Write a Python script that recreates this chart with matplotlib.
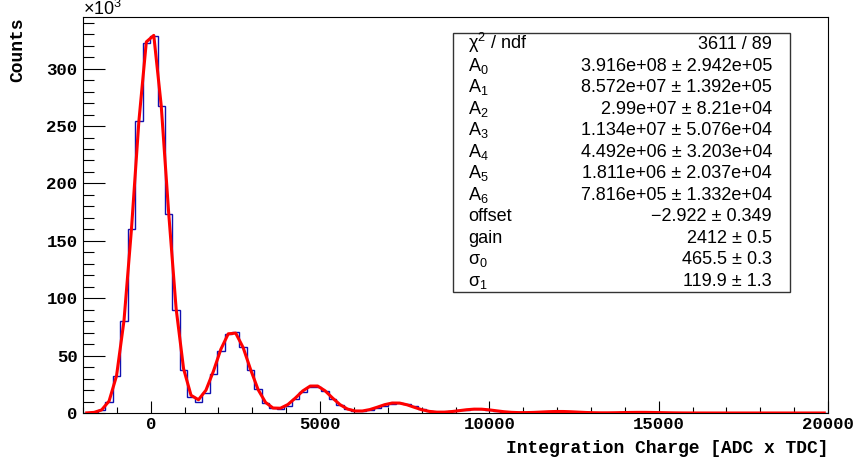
import numpy as np
import matplotlib
matplotlib.use("Agg")
import matplotlib.pyplot as plt
from matplotlib.ticker import MultipleLocator
from matplotlib.patches import Rectangle

plt.rcParams["mathtext.fontset"] = "custom"
plt.rcParams["mathtext.rm"] = "Liberation Sans"
plt.rcParams["mathtext.it"] = "Liberation Sans:italic"

# ─── histogram: 100 bins, -2000 .. 20000 (width 220), counts in 10^3 ───
X_MIN, X_MAX, N_BINS = -2000, 20000, 100
COUNTS_K = [
    0.1, 0.6, 2.6, 9.9, 32.0, 80.4, 160.5, 254.6, 322.6, 328.4,
    267.4, 173.3, 89.7, 37.8, 14.0, 9.9, 17.2, 33.7, 53.6, 68.5,
    70.3, 57.6, 37.8, 20.5, 9.0, 4.1, 3.2, 6.4, 12.2, 18.6,
    22.9, 22.9, 19.2, 12.2, 7.0, 3.2, 1.4, 1.5, 2.5, 4.2,
    6.3, 8.0, 8.6, 7.6, 5.8, 3.8, 2.1, 1.2, 1.0, 1.5,
    2.2, 2.9, 3.3, 3.3, 2.8, 2.0, 1.3, 0.8, 0.6, 0.7,
    0.9, 1.1, 1.3, 1.35, 1.3, 1.1, 0.85, 0.6, 0.4, 0.35,
    0.35, 0.4, 0.5, 0.55, 0.57, 0.55, 0.5, 0.4, 0.3, 0.2,
    0.15, 0.1, 0.08, 0.06, 0.05, 0.04, 0.03, 0.03, 0.02, 0.02,
    0.02, 0.01, 0.01, 0.01, 0.01, 0.0, 0.0, 0.0, 0.0, 0.0,
]

# ─── fit result (stats box) ───
CHI2, NDF = 3611, 89
AMPS = [3.916e8, 8.572e7, 2.99e7, 1.134e7, 4.492e6, 1.811e6, 7.816e5]
AMP_ERR = [2.942e5, 1.392e5, 8.21e4, 5.076e4, 3.203e4, 2.037e4, 1.332e4]
AMP_FMT = [".3e", ".3e", ".2e", ".3e", ".3e", ".3e", ".3e"]
ERR_FMT = [".3e", ".3e", ".2e", ".3e", ".3e", ".3e", ".3e"]
OFFSET, OFFSET_ERR = -2.922, 0.349
GAIN, GAIN_ERR = 2412, 0.5
SIGMA0, SIGMA0_ERR = 465.5, 0.3
SIGMA1, SIGMA1_ERR = 119.9, 1.3

edges = np.linspace(X_MIN, X_MAX, N_BINS + 1)
centers = 0.5 * (edges[:-1] + edges[1:])

# fit model: sum of gaussians, peak k at offset + k*gain, sigma_k^2 = s0^2 + k*s1^2
fit = np.zeros_like(centers)
for k, a in enumerate(AMPS):
    sk = np.sqrt(SIGMA0**2 + k * SIGMA1**2)
    mu = OFFSET + k * GAIN
    fit += a / (np.sqrt(2 * np.pi) * sk) * np.exp(-0.5 * ((centers - mu) / sk) ** 2)
fit /= 1e3

W, H = 858, 465
fig = plt.figure(figsize=(W / 100, H / 100), dpi=100)
ax = fig.add_axes([83 / W, 1 - 413 / H, (828 - 83) / W, (413 - 17) / H])

ax.stairs(COUNTS_K, edges, color="#1010b0", linewidth=1.0, zorder=2)
ax.plot(centers, fit, color="#ff0000", linewidth=2.2, zorder=3)

ax.set_xlim(X_MIN, X_MAX)
ax.set_ylim(0, 345)
ax.xaxis.set_major_locator(MultipleLocator(5000))
ax.xaxis.set_minor_locator(MultipleLocator(1000))
ax.yaxis.set_major_locator(MultipleLocator(50))
ax.yaxis.set_minor_locator(MultipleLocator(10))

mono = dict(family="Liberation Mono", weight="bold")
ax.tick_params(axis="both", which="both", direction="in", top=False, right=False,
               width=0.8, color="black")
ax.tick_params(axis="y", which="major", length=15.8, pad=4)
ax.tick_params(axis="y", which="minor", length=7.9)
ax.tick_params(axis="x", which="major", length=8.5, pad=3)
ax.tick_params(axis="x", which="minor", length=4.3)
for lbl in ax.get_xticklabels() + ax.get_yticklabels():
    lbl.set_fontfamily("Liberation Mono")
    lbl.set_fontweight("bold")
    lbl.set_fontsize(12.5)
for sp in ax.spines.values():
    sp.set_linewidth(0.8)

fig.text(828 / W, 1 - 448 / H, "Integration Charge [ADC x TDC]", ha="right",
         va="center", fontsize=13, **mono)
fig.text(17.5 / W, 1 - 17 / H, "Counts", rotation=90, ha="center", va="top",
         fontsize=13, **mono)
fig.text(83 / W, 1 - 15 / H, "×10$^{3}$", ha="left", va="baseline",
         fontsize=13, family="Liberation Sans")

# ─── stats box ───
bx0, bx1, by0, by1 = 453, 790, 33, 292
fig.add_artist(Rectangle((bx0 / W, 1 - by1 / H), (bx1 - bx0) / W, (by1 - by0) / H,
                         transform=fig.transFigure, facecolor="white",
                         edgecolor="#333333", linewidth=1.0, zorder=5))


def pm(v, e, fv, fe):
    s = f"{v:{fv}} ± {e:{fe}}"
    return s.replace("-", "−", 1) if v < 0 else s


rows = [("χ$^{2}$ / ndf", f"{CHI2} / {NDF}")]
for k, (a, e, fa, fe) in enumerate(zip(AMPS, AMP_ERR, AMP_FMT, ERR_FMT)):
    rows.append((f"A$_{{{k}}}$", pm(a, e, fa, fe)))
rows.append(("offset", pm(OFFSET, OFFSET_ERR, ".3f", ".3f")))
rows.append(("gain", pm(GAIN, GAIN_ERR, ".0f", ".1f")))
rows.append(("σ$_{0}$", pm(SIGMA0, SIGMA0_ERR, ".1f", ".1f")))
rows.append(("σ$_{1}$", pm(SIGMA1, SIGMA1_ERR, ".1f", ".1f")))

step = (286 - 49) / (len(rows) - 1)
for i, (name, val) in enumerate(rows):
    yb = 1 - (49 + step * i) / H
    fig.text(468 / W, yb, name, ha="left", va="baseline", fontsize=13,
             family="Liberation Sans", zorder=6)
    fig.text(772 / W, yb, val, ha="right", va="baseline", fontsize=13,
             family="Liberation Sans", zorder=6)

fig.savefig("out.png", dpi=100)
